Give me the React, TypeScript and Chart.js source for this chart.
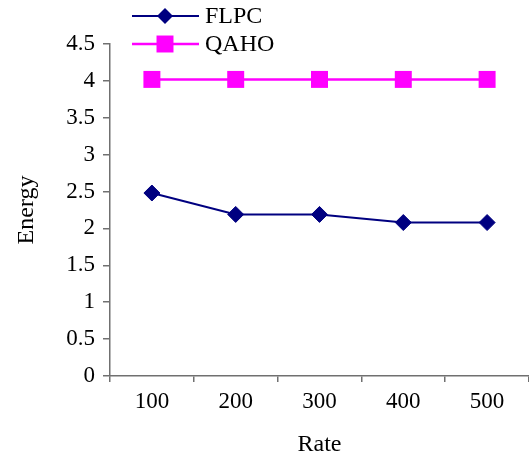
import React, { useEffect, useRef } from "react";
import { Chart, registerables } from "chart.js";

Chart.register(...registerables);

const categories = ["100", "200", "300", "400", "500"];
const flpcValues = [2.48, 2.19, 2.19, 2.08, 2.08];
const qahoValues = [4.02, 4.02, 4.02, 4.02, 4.02];
const seriesNames = ["FLPC", "QAHO"];
const xTitle = "Rate";
const yTitle = "Energy";

const FONT = "'Liberation Serif', 'Times New Roman', serif";
const AXIS_COLOR = "#707070";

const legendPlugin = {
  id: "customLegend",
  afterDraw(chart: any) {
    const ctx = chart.ctx;
    const rows = [16, 44];
    chart.data.datasets.forEach((ds: any, i: number) => {
      const y = rows[i];
      ctx.save();
      ctx.strokeStyle = ds.borderColor;
      ctx.lineWidth = ds.borderWidth;
      ctx.beginPath();
      ctx.moveTo(132, y);
      ctx.lineTo(199, y);
      ctx.stroke();
      ctx.restore();
      ctx.save();
      ctx.fillStyle = ds.pointBackgroundColor;
      const style = ds.pointStyle;
      const r = ds.pointRadius;
      ctx.beginPath();
      if (style === "rectRot") {
        ctx.moveTo(165 - r, y);
        ctx.lineTo(165, y - r);
        ctx.lineTo(165 + r, y);
        ctx.lineTo(165, y + r);
        ctx.closePath();
      } else {
        const s = Math.SQRT1_2 * r;
        ctx.rect(165 - s, y - s, 2 * s, 2 * s);
      }
      ctx.fill();
      ctx.restore();
      ctx.save();
      ctx.fillStyle = "#000";
      ctx.font = `24px ${FONT}`;
      ctx.textBaseline = "middle";
      ctx.textAlign = "left";
      ctx.fillText(ds.label, 205, y + 1);
      ctx.restore();
    });
  },
};

export default function App() {
  const ref = useRef<HTMLCanvasElement | null>(null);

  useEffect(() => {
    if (!ref.current) return;
    const chart = new Chart(ref.current, {
      type: "line",
      data: {
        labels: categories,
        datasets: [
          {
            label: seriesNames[0],
            data: flpcValues,
            borderColor: "#000080",
            backgroundColor: "#000080",
            pointBackgroundColor: "#000080",
            pointBorderColor: "#000080",
            borderWidth: 2,
            pointStyle: "rectRot",
            pointRadius: 8,
            pointBorderWidth: 1,
            tension: 0,
          } as any,
          {
            label: seriesNames[1],
            data: qahoValues,
            borderColor: "#FF00FF",
            backgroundColor: "#FF00FF",
            pointBackgroundColor: "#FF00FF",
            pointBorderColor: "#FF00FF",
            borderWidth: 2.5,
            pointStyle: "rect",
            pointRadius: 12,
            pointBorderWidth: 0,
            tension: 0,
          } as any,
        ],
      },
      options: {
        animation: false,
        responsive: false,
        maintainAspectRatio: false,
        layout: { autoPadding: false, padding: { top: 44, right: 0, left: 0, bottom: 0 } },
        plugins: {
          legend: { display: false },
          tooltip: { enabled: false },
        },
        scales: {
          x: {
            type: "category",
            offset: true,
            grid: {
              offset: true,
              drawOnChartArea: false,
              drawTicks: true,
              tickLength: 6,
              color: AXIS_COLOR,
              lineWidth: 1.5,
            },
            border: { display: true, color: AXIS_COLOR, width: 1.5 },
            ticks: {
              color: "#000",
              font: { family: FONT, size: 23 },
              padding: 6,
              maxRotation: 0,
            },
            title: {
              display: true,
              text: xTitle,
              color: "#000",
              font: { family: FONT, size: 24 },
              padding: { top: 0, bottom: 1 },
            },
            afterFit: (scale: any) => {
              scale.height = 84;
              scale.paddingLeft = 0;
              scale.paddingRight = 0;
            },
          },
          y: {
            min: 0,
            max: 4.5,
            ticks: {
              stepSize: 0.5,
              color: "#000",
              font: { family: FONT, size: 23 },
              padding: 8,
              callback: (v: any) => `${+v}`,
            },
            grid: {
              drawOnChartArea: false,
              drawTicks: true,
              tickLength: 7,
              color: AXIS_COLOR,
              lineWidth: 1.5,
            },
            border: { display: true, color: AXIS_COLOR, width: 1.5 },
            title: {
              display: true,
              text: yTitle,
              color: "#000",
              font: { family: FONT, size: 24 },
              padding: { top: 12, bottom: 0 },
            },
            afterFit: (scale: any) => {
              scale.width = 110;
              scale.paddingTop = 0;
              scale.paddingBottom = 0;
            },
          },
        },
      },
      plugins: [legendPlugin],
    });
    return () => chart.destroy();
  }, []);

  return (
    <div style={{ position: "absolute", left: 0, top: 0, width: 529, height: 460, background: "#fff" }}>
      <canvas ref={ref} width={529} height={460} style={{ display: "block" }} />
    </div>
  );
}
